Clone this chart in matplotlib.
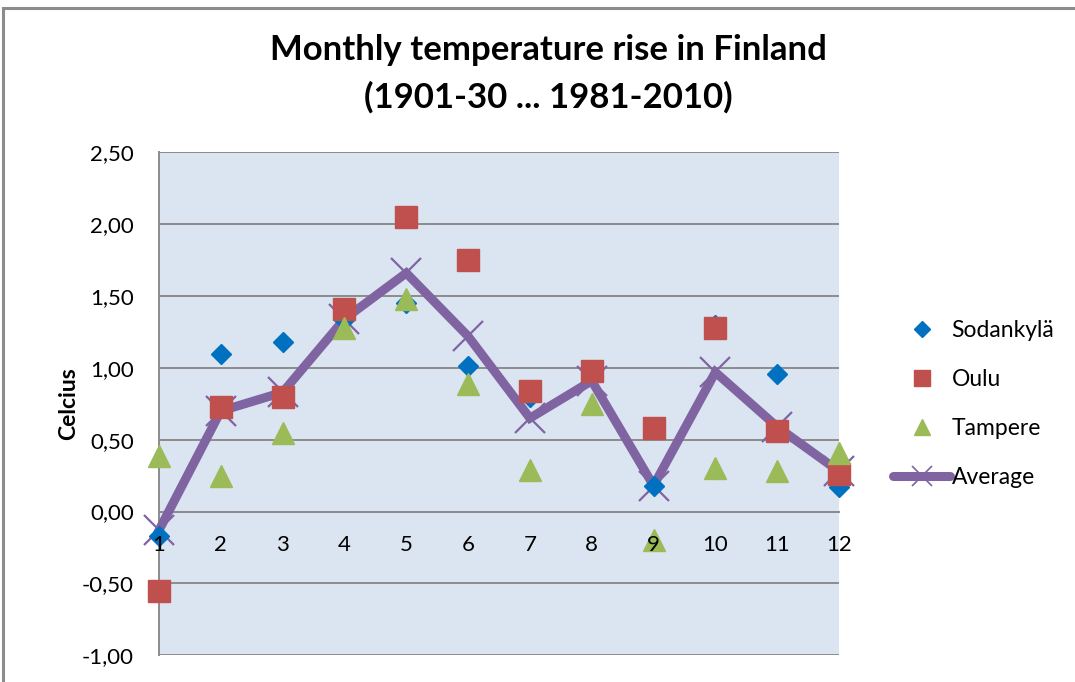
import matplotlib
matplotlib.use("Agg")
import matplotlib.pyplot as plt
from matplotlib.lines import Line2D
from matplotlib.patches import Rectangle
from matplotlib.ticker import FuncFormatter

months = [1, 2, 3, 4, 5, 6, 7, 8, 9, 10, 11, 12]
sodankyla = [-0.17, 1.10, 1.18, 1.33, 1.45, 1.01, 0.80, 0.98, 0.18, 1.30, 0.96, 0.17]
oulu = [-0.55, 0.73, 0.80, 1.41, 2.05, 1.75, 0.84, 0.98, 0.58, 1.28, 0.56, 0.26]
tampere = [0.39, 0.25, 0.55, 1.28, 1.48, 0.89, 0.29, 0.75, -0.20, 0.30, 0.28, 0.41]
average = [-0.13, 0.70, 0.83, 1.34, 1.66, 1.22, 0.65, 0.91, 0.18, 0.97, 0.59, 0.28]
yticks = [-1.0, -0.5, 0.0, 0.5, 1.0, 1.5, 2.0, 2.5]

FONT = "Lato"
plt.rcParams["font.family"] = [FONT, "DejaVu Sans"]

W, H = 1075, 682
fig = plt.figure(figsize=(W / 100, H / 100), dpi=100)
fig.patch.set_facecolor("white")

# outer chart border
fig.add_artist(Rectangle((3 / W, -0.05), (W + 20) / W, 1 - 7.5 / H + 0.05,
                         transform=fig.transFigure, fill=False,
                         edgecolor="#8c8c8c", linewidth=2.2))

ax = fig.add_axes([159 / W, 1 - 655.3 / H, (839 - 159) / W, (655.3 - 152.3) / H])
ax.set_facecolor("#dbe5f1")

ax.set_xlim(1, 12)
ax.set_ylim(-1.0, 2.5)
ax.set_yticks(yticks)
ax.yaxis.set_major_formatter(FuncFormatter(lambda v, p: f"{v:.2f}".replace(".", ",")))
ax.grid(axis="y", color="#8c8c8c", linewidth=1.4)
ax.set_axisbelow(True)

for s in ["top", "right"]:
    ax.spines[s].set_visible(False)
ax.spines["left"].set_color("#8c8c8c")
ax.spines["left"].set_linewidth(1.4)
ax.spines["bottom"].set_position(("data", 0))
ax.spines["bottom"].set_color("#8c8c8c")
ax.spines["bottom"].set_linewidth(1.4)
ax.spines["bottom"].set_zorder(0.6)

ax.set_xticks(months)
ax.set_xticklabels([str(m) for m in months])
ax.tick_params(axis="x", length=0, pad=17, labelsize=16, colors="black")
ax.tick_params(axis="y", length=0, pad=18, labelsize=16, colors="black")
ax.xaxis.set_zorder(10)

ax.plot(months, average, color="#8064a2", linewidth=6.5, marker="x",
        markersize=22, markeredgewidth=1.6, markeredgecolor="#8064a2",
        solid_joinstyle="miter", zorder=3, clip_on=False)
ax.plot(months, sodankyla, linestyle="none", marker="D", markersize=10.5,
        color="#0070c0", zorder=4, clip_on=False)
ax.plot(months, oulu, linestyle="none", marker="s", markersize=15.5,
        color="#c0504d", zorder=5, clip_on=False)
ax.plot(months, tampere, linestyle="none", marker="^", markersize=16,
        color="#9bbb59", zorder=6, clip_on=False)

ax.set_ylabel("Celcius", fontsize=16.5, fontweight="bold", labelpad=2)

fig.text(548 / W, 1 - 50 / H, "Monthly temperature rise in Finland",
         ha="center", va="center", fontsize=25, fontweight="bold")
fig.text(548 / W, 1 - 97 / H, "(1901-30 ... 1981-2010)",
         ha="center", va="center", fontsize=25, fontweight="bold")

handles = [
    Line2D([], [], linestyle="none", marker="D", markersize=8, color="#0070c0"),
    Line2D([], [], linestyle="none", marker="s", markersize=12, color="#c0504d"),
    Line2D([], [], linestyle="none", marker="^", markersize=12, color="#9bbb59"),
    Line2D([], [], color="#8064a2", linewidth=6.5, marker="x", markersize=14,
           markeredgewidth=1.2, solid_capstyle="round"),
]
labels = ["Sodankylä", "Oulu", "Tampere", "Average"]
fig.legend(handles, labels, loc="center left", bbox_to_anchor=(893 / W, 1 - 404 / H),
           frameon=False, fontsize=16.5, labelspacing=1.23, handlelength=2.5,
           handletextpad=0.05, borderpad=0, borderaxespad=0)

fig.savefig("out.png", dpi=100)
